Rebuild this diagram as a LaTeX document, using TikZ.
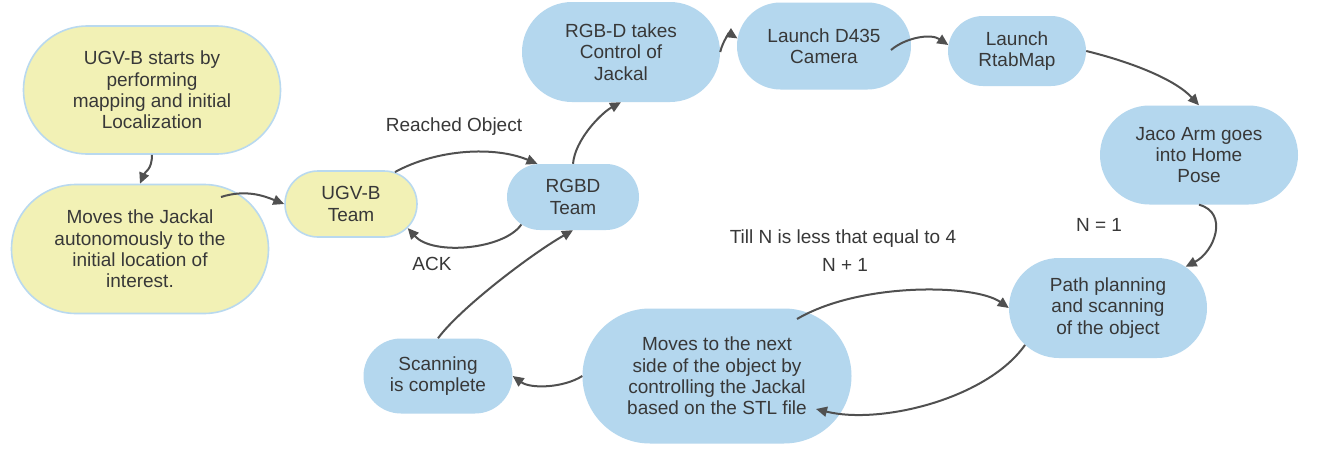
\documentclass[tikz,border=0pt]{standalone}
\usepackage{fontspec}
\setmainfont{Liberation Sans}
\usetikzlibrary{shapes.misc,arrows.meta,calc}
\definecolor{bluefill}{HTML}{B4D7EE}
\definecolor{yelfill}{HTML}{F2F1B5}
\definecolor{yelborder}{HTML}{B9D9EF}
\definecolor{txt}{HTML}{383838}
\definecolor{arr}{HTML}{505050}
\begin{document}
\begin{tikzpicture}[x=1pt,y=-1pt,
  every node/.style={font=\fontsize{19}{21.3}\selectfont, text=txt, align=center},
  base/.style={rounded rectangle, inner sep=0pt},
  bluebox/.style={base, fill=bluefill},
  yelbox/.style={base, fill=yelfill, draw=yelborder, line width=1.6pt},
  conn/.style={draw=arr, line width=2pt, -{Triangle[length=11pt,width=10pt]}},
  lbl/.style={inner sep=1pt}]
\useasboundingbox (0,0) rectangle (1318,458);
\fill[white] (0,0) rectangle (1318,458);
% nodes
\node[yelbox, minimum width=257pt, minimum height=128pt] (n1) at (152,90) {UGV-B starts by\\performing\\mapping and initial\\Localization};
\node[yelbox, minimum width=257pt, minimum height=129pt] (n2) at (140,249) {Moves the Jackal\\autonomously to the\\initial location of\\interest.};
\node[yelbox, minimum width=132pt, minimum height=66pt] (ugv) at (351,204) {UGV-B\\Team};
\node[bluebox, minimum width=132pt, minimum height=66pt] (rgbd) at (573,197) {RGBD\\Team};
\node[bluebox, minimum width=198pt, minimum height=100pt] (take) at (621,52) {RGB-D takes\\Control of\\Jackal};
\node[bluebox, minimum width=174pt, minimum height=87pt] (d435) at (824,46) {Launch D435\\Camera};
\node[bluebox, minimum width=138pt, minimum height=70pt] (rtab) at (1017,51) {Launch\\RtabMap};
\node[bluebox, minimum width=198pt, minimum height=99pt] (jaco) at (1199,155) {Jaco Arm goes\\into Home\\Pose};
\node[bluebox, minimum width=198pt, minimum height=100pt] (path) at (1108,308) {Path planning\\and scanning\\of the object};
\node[bluebox, minimum width=269pt, minimum height=135pt] (moves) at (717,376) {Moves to the next\\side of the object by\\controlling the Jackal\\based on the STL file};
\node[bluebox, minimum width=149pt, minimum height=75pt] (scan) at (438,376) {Scanning\\is complete};
% labels
\node[lbl] (lreach) at (454,127) {Reached Object};
\node[lbl] (lack) at (432,264) {ACK};
\node[lbl] (ltill) at (843,239) {Till N is less that equal to 4};
\node[lbl] (lnp) at (845,265) {N + 1};
\node[lbl] (lneq) at (1099,225) {N = 1};
% connectors
\draw[conn] (n1.south) .. controls +(0,15) and +(5,-12) .. (n2.north);
\draw[conn] ($(n2.center)+(81,-52)$) .. controls +(25,-8) and +(-20,-8) .. (ugv.west);
\draw[conn] (ugv.36) .. controls +(42,-23) and +(-43,-18) .. (rgbd.137);
\draw[conn] (rgbd.-152) .. controls +(-17,25) and +(25,28) .. (ugv.-23);
\draw[conn] (rgbd.north) .. controls +(2,-24) and +(-20,11) .. (take.south);
\draw[conn] (take.east) .. controls +(3,-12) and +(-8,-5) .. (d435.175);
\draw[conn] ($(d435.center)+(67,4)$) .. controls +(14,-12) and +(-18,-12) .. (rtab.175);
\draw[conn] (rtab.east) .. controls +(45,11) and +(-24,-26) .. (jaco.north);
\draw[conn] (jaco.south) .. controls +(30,8) and +(29,-15) .. (path.28);
\draw[conn] (path.204) .. controls +(-38,54) and +(64,16) .. ($(moves.center)+(99,33)$);
\draw[conn] ($(moves.center)+(80,-57)$) .. controls +(63,-37) and +(-34,-24) .. (path.west);
\draw[conn] (moves.west) .. controls +(-19,12) and +(18,13) .. (scan.east);
\draw[conn] (scan.north) .. controls +(22,-30) and +(-42,24) .. (rgbd.south);
\end{tikzpicture}
\end{document}
